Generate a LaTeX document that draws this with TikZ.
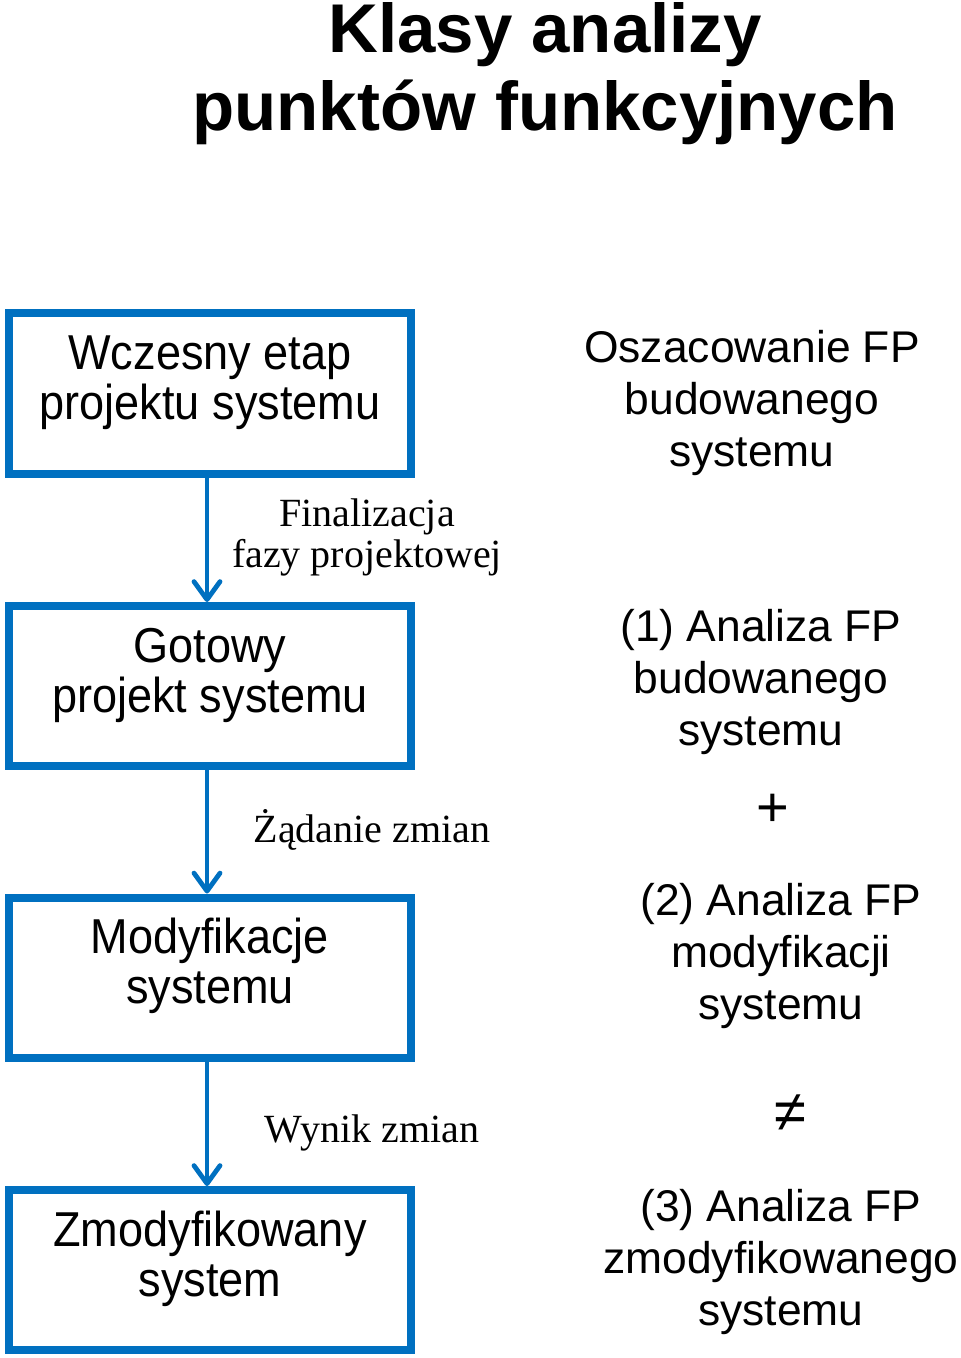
\documentclass[tikz,border=0pt]{standalone}
\usepackage{fontspec}
\setmainfont{Liberation Serif}
\newfontfamily\boxfont{Liberation Sans}[FakeStretch=0.92]
\newfontfamily\notefont{Liberation Sans}
\usetikzlibrary{arrows.meta}
\definecolor{fpblue}{RGB}{0,112,192}

\tikzset{
  stage/.style={draw=fpblue, line width=4pt, minimum width=201pt, minimum height=80pt, inner sep=0pt},
  stagetext/.style={anchor=base, align=center, font=\boxfont\fontsize{24.5}{25}\selectfont},
  flow/.style={draw=fpblue, line width=2.4pt, -{Straight Barb[round,length=9pt,width=13pt]}},
  flowtext/.style={anchor=base, align=center, font=\fontsize{20}{20.5}\selectfont},
  fptext/.style={anchor=base, align=center, font=\notefont\fontsize{22.2}{26}\selectfont},
}

\begin{document}
\begin{tikzpicture}[x=0.5pt,y=-0.5pt]
        \useasboundingbox (0,0) rectangle (960,1358);
        % title
        \node[anchor=base, align=center, font=\notefont\bfseries\fontsize{34.5}{39}\selectfont] (heading) at (545,131) {Klasy analizy\\punktów funkcyjnych};
        % stages
        \node[stage] (wczesny) at (210,393.5) {};
        \node[stage] (gotowy) at (210,686) {};
        \node[stage] (modyf) at (210,977.5) {};
        \node[stage] (zmodyf) at (210,1270) {};
        \node[stagetext] (wczesnyT) at ([yshift=-55pt]wczesny.north) {Wczesny etap\\projektu systemu};
        \node[stagetext] (gotowyT) at ([yshift=-55pt]gotowy.north) {Gotowy\\projekt systemu};
        \node[stagetext] (modyfT) at ([yshift=-55pt]modyf.north) {Modyfikacje\\systemu};
        \node[stagetext] (zmodyfT) at ([yshift=-55pt]zmodyf.north) {Zmodyfikowany\\system};
        % transitions
        \draw[flow] ([xshift=-1.5pt]wczesny.south) -- ([xshift=-1.5pt]gotowy.north);
        \draw[flow] ([xshift=-1.5pt]gotowy.south) -- ([xshift=-1.5pt]modyf.north);
        \draw[flow] ([xshift=-1.5pt]modyf.south) -- ([xshift=-1.5pt]zmodyf.north);
        \node[flowtext] (finT) at (367,567) {Finalizacja\\fazy projektowej};
        \node[flowtext] (zadT) at (372,842) {Żądanie zmian};
        \node[flowtext] (wynT) at (372,1142) {Wynik zmian};
        % FP analyses
        \node[fptext] (oszac) at (752,466) {Oszacowanie FP\\budowanego\\systemu};
        \node[fptext] (fp1) at (761,745) {(1) Analiza FP\\budowanego\\systemu};
        \node[font=\notefont\fontsize{28}{28}\selectfont] (plus) at (773,810) {+};
        \node[fptext] (fp2) at (781,1019) {(2) Analiza FP\\modyfikacji\\systemu};
        \node[font=\notefont\fontsize{29}{29}\selectfont] (neq) at (790,1113) {≠};
        \node[fptext] (fp3) at (781,1325) {(3) Analiza FP\\zmodyfikowanego\\systemu};
\end{tikzpicture}
\end{document}
